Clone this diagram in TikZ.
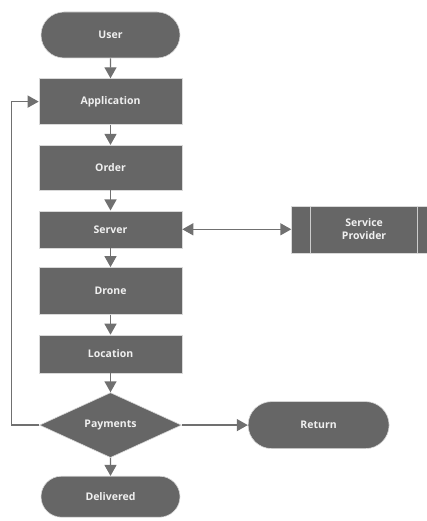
\documentclass[tikz,border=0pt]{standalone}
\usepackage{fontspec}
\setmainfont{Open Sans}
\usepackage{tikz}
\usetikzlibrary{shapes.geometric,shapes.misc,arrows.meta,positioning}

\definecolor{boxgray}{RGB}{102,102,102}
\definecolor{linegray}{RGB}{112,112,112}

\begin{document}
\begin{tikzpicture}[
    x=1pt, y=1pt,
    node distance=20pt,
    base/.style={draw=white!85!black, fill=boxgray, text=white!94!black, line width=0.6pt,
        minimum width=143pt, align=center, font=\fontsize{10.5}{12.5}\selectfont\bfseries, inner sep=2pt},
    terminal/.style={base, rounded rectangle, minimum height=46pt},
    process/.style={base, rectangle},
    decision/.style={base, diamond, minimum width=142pt, minimum height=65pt, inner sep=0pt},
    predef/.style={base, rectangle, minimum width=145pt, minimum height=47pt,
        path picture={
            \draw[white!80!black, line width=0.8pt]
                ([xshift=19pt]path picture bounding box.north west) -- ([xshift=19pt]path picture bounding box.south west)
                ([xshift=-19pt]path picture bounding box.north east) -- ([xshift=-19pt]path picture bounding box.south east);
        }},
    arrow/.style={-{Triangle[length=11pt,width=12pt]}, draw=linegray, line width=1.4pt},
    dblarrow/.style={{Triangle[length=11pt,width=12pt]}-{Triangle[length=11pt,width=12pt]}, draw=linegray, line width=1.4pt}
]
\useasboundingbox (0,0) rectangle (427,-521);

% Main flow
\node[terminal] (user) at (110.5,-35) {User};
\node[process, minimum height=46pt, below=of user] (app) {Application};
\node[process, minimum height=45pt, below=20pt of app] (order) {Order};
\node[process, minimum height=37pt, below=of order] (server) {Server};
\node[process, minimum height=47pt, below=19pt of server] (drone) {Drone};
\node[process, minimum height=38pt, below=of drone] (location) {Location};
\node[decision, below=19pt of location] (pay) {Payments};
\node[terminal, minimum height=41pt, below=18pt of pay] (deliv) {Delivered};

% Side nodes
\node[predef, right=109pt of server] (provider) {Service\\Provider};
\node[terminal, minimum width=145pt, minimum height=47pt, right=66pt of pay] (ret) {Return};

% Connectors
\draw[arrow] (user) -- (app);
\draw[arrow] (app) -- (order);
\draw[arrow] (order) -- (server);
\draw[arrow] (server) -- (drone);
\draw[arrow] (drone) -- (location);
\draw[arrow] (location) -- (pay);
\draw[arrow] (pay) -- (deliv);
\draw[dblarrow] (server) -- (provider);
\draw[arrow] (pay) -- (ret);
\draw[arrow] (pay.west) -- ++(-28pt,0) |- (app.west);

\end{tikzpicture}
\end{document}
